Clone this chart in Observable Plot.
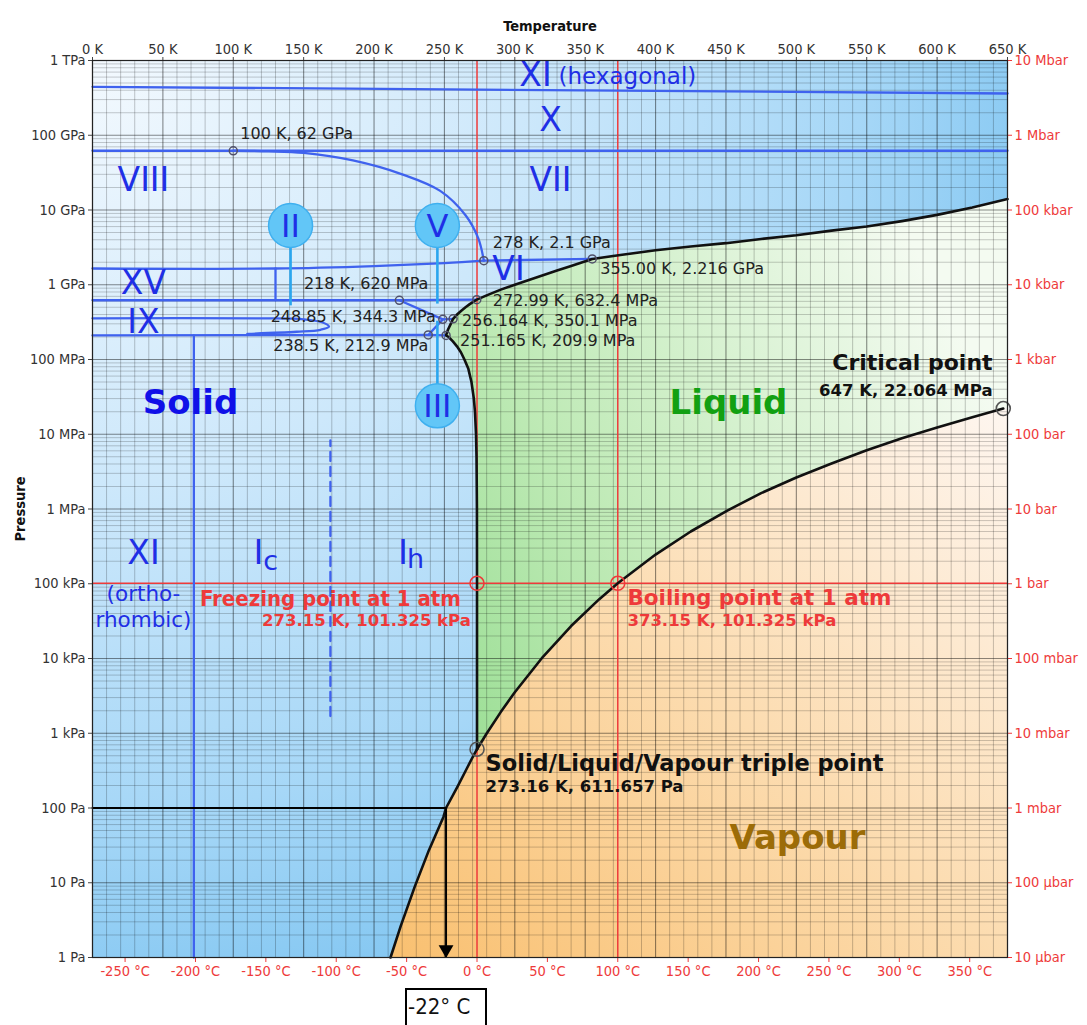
<!DOCTYPE html>
<html><head><meta charset="utf-8">
<script src="https://cdn.jsdelivr.net/npm/d3@7"></script>
<script src="https://cdn.jsdelivr.net/npm/@observablehq/plot@0.6"></script>
<style>
html,body{margin:0;padding:0;background:#fff;overflow:hidden}
#wrap{position:relative;width:1087px;height:1025px}
#box{position:absolute;left:405px;top:988px;width:82px;height:50px;border:2px solid #000;box-sizing:border-box;
 font:22px "DejaVu Sans Condensed","DejaVu Sans",sans-serif;color:#111;padding:4px 0 0 1px;white-space:nowrap}
g[aria-label="x-axis label"] text{font-weight:bold;font-size:14.5px;fill:#111}
g[aria-label="y-axis label"] text{font-weight:bold;font-size:14.5px;fill:#111}
</style></head>
<body><div id="wrap"></div>
<script>
// ---------- data ----------
// phase boundaries (temperature K, pressure Pa)
const subT = [211.7, 219, 229, 239, 249.3, 251.15, 259.5, 266, 269.8, 273.16];
const subP = [1, 2.65, 8.94, 27.3, 76, 100, 195.8, 340, 470, 611.657];
const vapT = [273.16, 280, 290, 300, 320, 340, 360, 373.15, 400, 425, 450, 475, 500, 525, 550, 575, 600, 625, 647];
const vapP = [611.657, 991.8, 1919, 3537, 10546, 27188, 62194, 101325, 2.4577e5, 5.0e5, 9.32e5, 1.63e6, 2.639e6, 4.06e6, 6.117e6, 8.85e6, 1.2345e7, 1.693e7, 2.2064e7];
const meltIhT = [273.16, 273.15, 273.09, 272.8, 272.45, 271.7, 270.9, 269.2, 267.0, 264.2, 261.7, 258.9, 256.0, 253.0, 251.165];
const meltIhP = [611.657, 101325, 1e6, 5e6, 1e7, 2e7, 3e7, 5e7, 7.5e7, 1e8, 1.25e8, 1.5e8, 1.75e8, 2e8, 2.099e8];
const meltIIIT = [251.165, 252.5, 254.5, 256.164];
const meltIIIP = [2.099e8, 2.5e8, 3e8, 3.501e8];
const meltVT = [256.164, 259, 262, 265, 268, 271, 272.99];
const meltVP = [3.501e8, 4.0e8, 4.5e8, 5.0e8, 5.5e8, 6.0e8, 6.324e8];
const meltVIT = [272.99, 280, 290, 300, 310, 320, 330, 340, 355];
const meltVIP = [6.324e8, 7.2e8, 8.6e8, 1.0e9, 1.16e9, 1.34e9, 1.55e9, 1.78e9, 2.216e9];
const meltVIIT = [355, 375, 400, 425, 450, 475, 500, 525, 550, 575, 600, 625, 650];
const meltVIIP = [2.216e9, 2.5e9, 2.9e9, 3.25e9, 3.6e9, 4.1e9, 4.6e9, 5.3e9, 6.0e9, 7.1e9, 8.6e9, 1.08e10, 1.4e10];

// solid-solid boundaries
const hexT = [0, 650], hexP = [4.45e11, 3.62e11];
const xT = [0, 650], xP = [6.2e10, 6.2e10];
const viiiT = [100, 125, 150, 185, 220, 247, 265, 274, 278];
const viiiP = [6.2e10, 6.1e10, 5.8e10, 4.6e10, 3.0e10, 1.8e10, 8.5e9, 4.2e9, 2.1e9];
const viT = [0, 130, 200, 250, 278], viP = [1.65e9, 1.65e9, 1.78e9, 1.95e9, 2.1e9];
const viViiT = [278, 355], viViiP = [2.1e9, 2.216e9];
const xvT = [130, 130], xvP = [6.2e8, 1.65e9];
const iiViT = [0, 218, 272.99], iiViP = [6.2e8, 6.2e8, 6.324e8];
const iiVT = [218, 248.85], iiVP = [6.2e8, 3.443e8];
const iiiVT = [248.85, 256.164], iiiVP = [3.443e8, 3.501e8];
const iiIIIT = [238.5, 248.85], iiIIIP = [2.129e8, 3.443e8];
const ihT = [0, 238.5, 251.165], ihP = [2.1e8, 2.129e8, 2.099e8];
const ixT = [0, 120, 150, 163, 168, 162, 145, 110], ixP = [3.55e8, 3.55e8, 3.45e8, 3.15e8, 2.75e8, 2.5e8, 2.35e8, 2.2e8];
const xiT = [72, 72], xiP = [1, 2.1e8];
const icT = [169, 169], icP = [1.7e3, 8.3e6];

// marked points
const ptT = [100, 278, 355, 218, 272.99, 248.85, 256.164, 238.5, 251.165];
const ptP = [6.2e10, 2.1e9, 2.216e9, 6.2e8, 6.324e8, 3.443e8, 3.501e8, 2.129e8, 2.099e8];
const ptLabel = ["100 K, 62 GPa", "278 K, 2.1 GPa", "355.00 K, 2.216 GPa", "218 K, 620 MPa", "272.99 K, 632.4 MPa",
  "248.85 K, 344.3 MPa", "256.164 K, 350.1 MPa", "238.5 K, 212.9 MPa", "251.165 K, 209.9 MPa"];
const ptAnchor = ["start", "start", "start", "end", "start", "end", "start", "end", "start"];
const ptDx = [7, 9, 8, 29, 16, -7, 9, 0, 14];
const ptDy = [-17, -18, 10, -16, 1, -2, 2, 11, 5];

const triple = {T: 273.16, P: 611.657};
const critical = {T: 647, P: 2.2064e7};
const freezing = {T: 273.15, P: 101325};
const boiling = {T: 373.15, P: 101325};
const annotT = 251.15, annotP = 100;

// numbered circles
const circT = [140.7, 245, 245], circP = [6.2e9, 6.2e9, 2.4e7], circLab = ["II", "V", "III"];
const stemT = [140.7, 245, 245], stemP1 = [6.2e9, 6.2e9, 2.4e7], stemP2 = [5.3e8, 5.6e8, 3.3e8];

// region labels
const romT = [314.7, 325.4, 36.2, 325.4, 36.2, 36.2, 295.5, 36.2];
const romP = [6.3e11, 1.57e11, 2.48e10, 2.48e10, 1.04e9, 3.13e8, 1.6e9, 2.54e5];
const romLab = ["XI", "X", "VIII", "VII", "XV", "IX", "VI", "XI"];

// ticks
const kTicks = [0, 50, 100, 150, 200, 250, 300, 350, 400, 450, 500, 550, 600, 650];
const cTicks = [-250, -200, -150, -100, -50, 0, 50, 100, 150, 200, 250, 300, 350];
const pTicks = [1, 10, 100, 1e3, 1e4, 1e5, 1e6, 1e7, 1e8, 1e9, 1e10, 1e11, 1e12];
const paLabels = ["1 Pa", "10 Pa", "100 Pa", "1 kPa", "10 kPa", "100 kPa", "1 MPa", "10 MPa", "100 MPa", "1 GPa", "10 GPa", "100 GPa", "1 TPa"];
const barLabels = ["10 µbar", "100 µbar", "1 mbar", "10 mbar", "100 mbar", "1 bar", "10 bar", "100 bar", "1 kbar", "10 kbar", "100 kbar", "1 Mbar", "10 Mbar"];

// ---------- build ----------
const pts = (T, P) => T.map((t, i) => ({T: t, P: P[i]}));
const Tmax = 650, Pmin = 1;
const meltAll = [...pts(meltIhT, meltIhP), ...pts(meltIIIT, meltIIIP).slice(1), ...pts(meltVT, meltVP).slice(1),
  ...pts(meltVIT, meltVIP).slice(1), ...pts(meltVIIT, meltVIIP).slice(1)];
const vap = pts(vapT, vapP), sub = pts(subT, subP);
const liquidPoly = [...meltAll, {T: Tmax, P: Pmin}, {T: triple.T, P: Pmin}];
const vapourPoly = [...sub, ...vap.slice(1), {T: Tmax, P: critical.P}, {T: Tmax, P: Pmin}];

const gridT = d3.range(0, 651, 10);
const gridMinor = [];
for (let d = 0; d < 12; d++) for (let k = 2; k <= 9; k++) gridMinor.push(k * 10 ** d);

const paMap = new Map(pTicks.map((p, i) => [p, paLabels[i]]));
const barMap = new Map(pTicks.map((p, i) => [p, barLabels[i]]));
const cK = cTicks.map(c => c + 273.15);
const cMap = new Map(cK.map((k, i) => [k, cTicks[i]]));

const FONT = '"DejaVu Sans", sans-serif';
const COND = '"DejaVu Sans Condensed", "DejaVu Sans", sans-serif';
const BLUE = "#3f62ee", TXTBLUE = "#1f2fe6", RED = "#ee3a3a";

const blueLine = (T, P, extra = {}) => Plot.line(pts(T, P), {x: "T", y: "P", stroke: BLUE, strokeWidth: 2.3, curve: "linear", ...extra});
const txt = (text, T, P, o = {}) => Plot.text([{T, P}], {x: "T", y: "P", text: () => text, fontFamily: FONT, ...o});

const chart = Plot.plot({
  width: 1087, height: 985,
  marginLeft: 92, marginRight: 80, marginTop: 60, marginBottom: 28,
  x: {domain: [0, 650]},
  y: {type: "log", domain: [1, 1e12]},
  style: {fontFamily: COND, fontSize: "14.5px", background: "transparent", overflow: "visible"},
  marks: [
    Plot.frame({fill: "url(#gBlue)", stroke: null}),
    Plot.line(liquidPoly, {x: "T", y: "P", fill: "url(#gGreen)", stroke: "none", curve: "linear", clip: true}),
    Plot.line(vapourPoly, {x: "T", y: "P", fill: "url(#gOrange)", stroke: "none", curve: "linear", clip: true}),
    // grid
    Plot.ruleX(gridT.filter(t => t % 50), {stroke: "#000", strokeOpacity: 0.22, strokeWidth: 1}),
    Plot.ruleX(kTicks, {stroke: "#000", strokeOpacity: 0.45, strokeWidth: 1.1}),
    Plot.ruleY(gridMinor, {stroke: "#000", strokeOpacity: 0.2, strokeWidth: 1}),
    Plot.ruleY(pTicks, {stroke: "#000", strokeOpacity: 0.45, strokeWidth: 1.1}),
    // red reference lines
    Plot.ruleX([freezing.T, boiling.T], {stroke: RED, strokeWidth: 1.5}),
    Plot.ruleY([freezing.P], {stroke: RED, strokeWidth: 1.5}),
    // solid-solid boundaries
    blueLine(hexT, hexP),
    blueLine(xT, xP),
    blueLine(viiiT, viiiP, {curve: "catmull-rom"}),
    blueLine(viT, viP, {curve: "catmull-rom"}),
    blueLine(viViiT, viViiP),
    blueLine(xvT, xvP),
    blueLine(iiViT, iiViP),
    blueLine(iiVT, iiVP),
    blueLine(iiiVT, iiiVP),
    blueLine(iiIIIT, iiIIIP),
    blueLine(ihT, ihP),
    blueLine(ixT, ixP, {curve: "catmull-rom"}),
    blueLine(xiT, xiP),
    blueLine(icT, icP, {strokeDasharray: "9,6"}),
    // stems and numbered circles
    Plot.link(stemT.map((t, i) => ({T: t, P1: stemP1[i], P2: stemP2[i]})), {x1: "T", x2: "T", y1: "P1", y2: "P2", stroke: "#2ba6ee", strokeWidth: 2.6}),
    Plot.dot(pts(circT, circP), {x: "T", y: "P", r: 22, fill: "#62c6f7", stroke: "#3fb0ef", strokeWidth: 1.5}),
    Plot.text(circT.map((t, i) => ({T: t, P: circP[i], L: circLab[i]})), {x: "T", y: "P", text: "L", fontSize: 32, fill: TXTBLUE, fontFamily: FONT, dy: 1}),
    // phase boundaries (black)
    Plot.line(sub, {x: "T", y: "P", stroke: "#111", strokeWidth: 2.6}),
    Plot.line(vap, {x: "T", y: "P", stroke: "#111", strokeWidth: 2.6}),
    Plot.line(meltAll, {x: "T", y: "P", stroke: "#111", strokeWidth: 2.6}),
    // annotation -22 °C
    Plot.line([{T: 0, P: annotP}, {T: annotT, P: annotP}], {x: "T", y: "P", stroke: "#000", strokeWidth: 2}),
    Plot.link([{T: annotT, P1: annotP, P2: Pmin}], {x1: "T", x2: "T", y1: "P1", y2: "P2", stroke: "#000", strokeWidth: 2}),
    Plot.dot([{T: annotT, P: Pmin}], {x: "T", y: "P", symbol: "triangle", rotate: 180, r: 5.5, fill: "#000", stroke: "none", dy: -8}),
    // special points
    Plot.dot(pts(ptT, ptP), {x: "T", y: "P", r: 4, stroke: "#50506a", strokeWidth: 1.5, fill: "none"}),
    Plot.dot([triple, critical], {x: "T", y: "P", r: 7, stroke: "#555", strokeWidth: 1.6, fill: "none"}),
    Plot.dot([freezing, boiling], {x: "T", y: "P", r: 7, stroke: RED, strokeWidth: 1.6, fill: "none"}),
    ...ptT.map((t, i) => txt(ptLabel[i], t, ptP[i], {textAnchor: ptAnchor[i], dx: ptDx[i], dy: ptDy[i], fontSize: 16, fill: "#222"})),
    // region labels
    Plot.text(pts(romT, romP).map((d, i) => ({...d, L: romLab[i]})), {x: "T", y: "P", text: "L", fontSize: 33, fill: TXTBLUE, fontFamily: FONT}),
    txt("(hexagonal)", 380, 6.0e11, {fontSize: 23, fill: TXTBLUE}),
    txt("(ortho-", 36.2, 7.3e4, {fontSize: 21.5, fill: TXTBLUE}),
    txt("rhombic)", 36.2, 3.25e4, {fontSize: 21.5, fill: TXTBLUE}),
    txt("I", 118, 2.54e5, {fontSize: 34, fill: TXTBLUE}),
    txt("c", 126.5, 2.54e5, {fontSize: 27, fill: TXTBLUE, dy: 8}),
    txt("I", 220.5, 2.54e5, {fontSize: 34, fill: TXTBLUE}),
    txt("h", 229.5, 2.54e5, {fontSize: 27, fill: TXTBLUE, dy: 6}),
    txt("Solid", 69.6, 2.58e7, {fontSize: 34, fontWeight: "bold", fill: "#1010e8"}),
    txt("Liquid", 451.8, 2.58e7, {fontSize: 34, fontWeight: "bold", fill: "#12a012"}),
    txt("Vapour", 500.8, 39, {fontSize: 34, fontWeight: "bold", fill: "#9c6c08"}),
    txt("Freezing point at 1 atm", 169, 6.35e4, {fontSize: 22, fontWeight: "bold", fill: RED, fontFamily: COND}),
    txt("273.15 K, 101.325 kPa", 194.6, 3.22e4, {fontSize: 16.5, fontWeight: "bold", fill: RED}),
    txt("Boiling point at 1 atm", 380, 6.35e4, {fontSize: 21.5, fontWeight: "bold", fill: RED, textAnchor: "start"}),
    txt("373.15 K, 101.325 kPa", 380, 3.22e4, {fontSize: 16.5, fontWeight: "bold", fill: RED, textAnchor: "start"}),
    txt("Critical point", 639.4, 9.1e7, {fontSize: 22, fontWeight: "bold", fill: "#111", textAnchor: "end"}),
    txt("647 K, 22.064 MPa", 639.4, 3.85e7, {fontSize: 16.5, fontWeight: "bold", fill: "#111", textAnchor: "end"}),
    txt("Solid/Liquid/Vapour triple point", 279.2, 393, {fontSize: 22.5, fontWeight: "bold", fill: "#111", textAnchor: "start"}),
    txt("273.16 K, 611.657 Pa", 279.2, 194, {fontSize: 16.5, fontWeight: "bold", fill: "#111", textAnchor: "start"}),
    // axes
    Plot.axisX(kTicks, {anchor: "top", tickFormat: d => `${d} K`, tickSize: 4, tickPadding: 3, fill: "#333", stroke: "#444",
      label: "Temperature", labelAnchor: "center", labelArrow: "none", labelOffset: 40}),
    Plot.axisX(cK, {anchor: "bottom", tickFormat: d => `${cMap.get(d)} °C`, tickSize: 5, tickPadding: 3, fill: RED, stroke: RED, label: null}),
    Plot.axisY(pTicks, {anchor: "left", tickFormat: d => paMap.get(d), tickSize: 4, tickPadding: 3, fill: "#333", stroke: "#444",
      label: "Pressure", labelAnchor: "center", labelArrow: "none", labelOffset: 78}),
    Plot.axisY(pTicks, {anchor: "right", tickFormat: d => barMap.get(d), tickSize: 4, tickPadding: 3, fill: RED, stroke: RED, label: null}),
    Plot.frame({stroke: "#222", strokeWidth: 1.2})
  ]
});

const svgNS = "http://www.w3.org/2000/svg";
const defs = document.createElementNS(svgNS, "defs");
defs.innerHTML = `
<radialGradient id="gBlue" cx="0" cy="0" r="1.05" fx="0" fy="0" gradientUnits="objectBoundingBox">
 <stop offset="0" stop-color="#f3f9fe"/><stop offset="0.45" stop-color="#cde8fb"/><stop offset="0.8" stop-color="#a6d7f7"/><stop offset="1" stop-color="#86c8f2"/>
</radialGradient>
<linearGradient id="gGreen" x1="0" y1="1" x2="1" y2="0.3">
 <stop offset="0" stop-color="#8ad985"/><stop offset="0.45" stop-color="#bfeab6"/><stop offset="1" stop-color="#f4fbf1"/>
</linearGradient>
<linearGradient id="gOrange" x1="0" y1="1" x2="1" y2="0">
 <stop offset="0" stop-color="#f9c070"/><stop offset="0.5" stop-color="#fcdcb0"/><stop offset="1" stop-color="#fef6f0"/>
</linearGradient>`;
chart.insertBefore(defs, chart.firstChild);
document.getElementById("wrap").appendChild(chart);
</script>
<div id="box">-22° C</div>
</body></html>
